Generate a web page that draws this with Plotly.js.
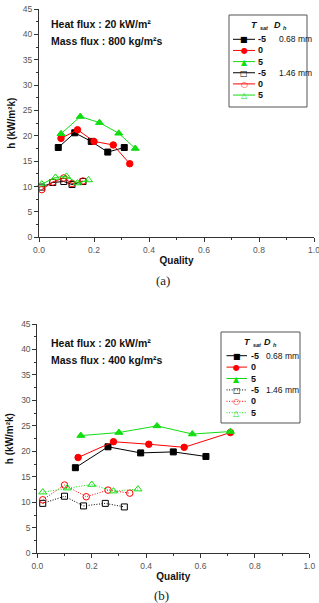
<!DOCTYPE html>
<html>
<head>
<meta charset="utf-8">
<script src="https://cdn.plot.ly/plotly-3.0.1.min.js"></script>
<style>
  html, body { margin: 0; padding: 0; background: #fff; }
  #chart { width: 319px; height: 603px; }
</style>
</head>
<body>
<div id="chart"></div>
<script>
// Flow boiling heat transfer coefficient vs. vapour quality
// (a) G = 800 kg/m2s, (b) G = 400 kg/m2s, q = 20 kW/m2

// --- (a) mass flux 800 kg/m2s ---
const a_x_m5_068 = [0.07, 0.13, 0.19, 0.25, 0.31];
const a_h_m5_068 = [17.7, 20.6, 18.9, 16.8, 17.7];
const a_x_0_068  = [0.08, 0.14, 0.20, 0.27, 0.33];
const a_h_0_068  = [19.5, 21.2, 18.9, 18.2, 14.5];
const a_x_5_068  = [0.08, 0.15, 0.22, 0.29, 0.35];
const a_h_5_068  = [20.4, 23.8, 22.6, 20.5, 17.5];
const a_x_m5_146 = [0.01, 0.05, 0.09, 0.12, 0.16];
const a_h_m5_146 = [9.9, 10.8, 11.0, 10.4, 11.0];
const a_x_0_146  = [0.01, 0.05, 0.09, 0.12, 0.16];
const a_h_0_146  = [9.4, 10.9, 11.7, 10.6, 11.1];
const a_x_5_146  = [0.01, 0.06, 0.10, 0.14, 0.18];
const a_h_5_146  = [10.5, 11.8, 12.0, 10.7, 11.3];

// --- (b) mass flux 400 kg/m2s ---
const b_x_m5_068 = [0.14, 0.26, 0.38, 0.50, 0.62];
const b_h_m5_068 = [16.8, 20.9, 19.7, 19.9, 19.0];
const b_x_0_068  = [0.15, 0.28, 0.41, 0.54, 0.71];
const b_h_0_068  = [18.8, 21.9, 21.4, 20.8, 23.7];
const b_x_5_068  = [0.16, 0.30, 0.44, 0.57, 0.71];
const b_h_5_068  = [23.1, 23.7, 25.0, 23.4, 23.9];
const b_x_m5_146 = [0.02, 0.10, 0.17, 0.25, 0.32];
const b_h_m5_146 = [9.8, 11.2, 9.3, 9.8, 9.1];
const b_x_0_146  = [0.02, 0.10, 0.18, 0.26, 0.34];
const b_h_0_146  = [10.5, 13.4, 11.1, 12.4, 11.8];
const b_x_5_146  = [0.02, 0.11, 0.20, 0.28, 0.37];
const b_h_5_146  = [12.0, 12.8, 13.5, 12.2, 12.6];

// legend labels
const tsatLabels = ['-5', '0', '5', '-5', '0', '5'];
const dhLabels   = ['0.68 mm', '', '', '1.46 mm', '', ''];
const xTickVals  = [0, 0.2, 0.4, 0.6, 0.8, 1.0];
const yTickVals  = [0, 5, 10, 15, 20, 25, 30, 35, 40, 45];

const W = 319, H = 603;
const px = v => v / W;
const py = v => 1 - v / H;

const FONT = 'Liberation Sans, Arial, sans-serif';
const GLYPH_FONT = 'DejaVu Sans, sans-serif';
const DOTTED = '1px,1.6px';

const styles = [
  { color: '#000000', symbol: 'square',             size: 6,   glyph: '\u25A0' },
  { color: '#ff0000', symbol: 'circle',             size: 6.5, glyph: '\u25CF' },
  { color: '#11dd11', symbol: 'triangle-up',        size: 7,   glyph: '\u25B2' },
  { color: '#000000', symbol: 'square-open',        size: 6,   glyph: '\u25A1' },
  { color: '#ff0000', symbol: 'circle-open',        size: 6.5, glyph: '\u25CB' },
  { color: '#11dd11', symbol: 'triangle-up-open',   size: 7,   glyph: '\u25B3' }
];

const panelA = {
  xs: [a_x_m5_068, a_x_0_068, a_x_5_068, a_x_m5_146, a_x_0_146, a_x_5_146],
  ys: [a_h_m5_068, a_h_0_068, a_h_5_068, a_h_m5_146, a_h_0_146, a_h_5_146],
  openDash: 'solid',
  xa: 'x', ya: 'y'
};
const panelB = {
  xs: [b_x_m5_068, b_x_0_068, b_x_5_068, b_x_m5_146, b_x_0_146, b_x_5_146],
  ys: [b_h_m5_068, b_h_0_068, b_h_5_068, b_h_m5_146, b_h_0_146, b_h_5_146],
  openDash: DOTTED,
  xa: 'x2', ya: 'y2'
};

const traces = [];
[panelA, panelB].forEach(p => {
  // open (1.46 mm) series first, filled (0.68 mm) series on top
  [3, 4, 5, 0, 1, 2].forEach(i => {
    const s = styles[i];
    traces.push({
      type: 'scatter', mode: 'lines+markers',
      x: p.xs[i], y: p.ys[i], xaxis: p.xa, yaxis: p.ya,
      name: tsatLabels[i] + ' ' + dhLabels[i],
      showlegend: false,
      line: { color: s.color, width: 1, dash: i >= 3 ? p.openDash : 'solid' },
      marker: { symbol: s.symbol, size: s.size, color: s.color,
                line: { color: s.color, width: 1 } },
      cliponaxis: false,
      hoverinfo: 'skip'
    });
  });
});

const minorX = [0.1, 0.3, 0.5, 0.7, 0.9];
const minorY = yTickVals.slice(0, -1).map(v => v + 2.5);

function baseX(domain, anchor) {
  return {
    domain: domain, anchor: anchor, range: [0, 1],
    tickvals: xTickVals, ticktext: xTickVals.map(v => v.toFixed(1)),
    ticklabeloverflow: 'allow',
    ticks: 'outside', ticklen: 4, tickwidth: 1, tickcolor: '#333',
    minor: { tickvals: minorX, ticks: 'outside', ticklen: 2, tickcolor: '#333' },
    showline: true, linecolor: '#333', linewidth: 1,
    showgrid: false, zeroline: false,
    tickfont: { family: FONT, size: 8.5, color: '#555' },
    title: { text: 'Quality', standoff: 3,
             font: { family: FONT, size: 10, color: '#111', weight: 'bold' } }
  };
}
function baseY(domain, anchor) {
  return {
    domain: domain, anchor: anchor, range: [0, 45],
    tickvals: yTickVals,
    ticks: 'outside', ticklen: 4, tickwidth: 1, tickcolor: '#333',
    minor: { tickvals: minorY, ticks: 'outside', ticklen: 2, tickcolor: '#333' },
    showline: true, linecolor: '#333', linewidth: 1,
    showgrid: false, zeroline: false,
    tickfont: { family: FONT, size: 8.5, color: '#555' },
    title: { text: 'h (kW/m\u00B2k)', standoff: 5,
             font: { family: FONT, size: 10, color: '#111', weight: 'bold' } }
  };
}
// top / right frame axes with inward ticks
function frameX(domain, over, anchor) {
  return {
    domain: domain, overlaying: over, anchor: anchor, side: 'top', range: [0, 1],
    tickvals: xTickVals, showticklabels: false,
    ticks: 'inside', ticklen: 4, tickcolor: '#333',
    minor: { tickvals: minorX, ticks: 'inside', ticklen: 2, tickcolor: '#333' },
    showline: true, linecolor: '#333', linewidth: 1,
    showgrid: false, zeroline: false
  };
}
function frameY(domain, over, anchor) {
  return {
    domain: domain, overlaying: over, anchor: anchor, side: 'right', range: [0, 45],
    tickvals: yTickVals, showticklabels: false,
    ticks: 'inside', ticklen: 4, tickcolor: '#333',
    minor: { tickvals: minorY, ticks: 'inside', ticklen: 2, tickcolor: '#333' },
    showline: true, linecolor: '#333', linewidth: 1,
    showgrid: false, zeroline: false
  };
}

const domA_x = [px(39), px(314)], domA_y = [py(237.3), py(9)];
const domB_x = [px(37.3), px(309.3)], domB_y = [py(553.3), py(324)];

const annotations = [];
const shapes = [];

function note(xp, yp, text, opts) {
  annotations.push(Object.assign({
    xref: 'paper', yref: 'paper', x: px(xp), y: py(yp), text: text,
    showarrow: false, xanchor: 'left', yanchor: 'middle',
    font: { family: FONT, size: 10.5, color: '#111', weight: 'bold' }
  }, opts || {}));
}

// conditions text and captions
note(49, 24, 'Heat flux : 20 kW/m\u00B2');
note(49, 41, 'Mass flux : 800 kg/m\u00B2s');
note(49, 343, 'Heat flux : 20 kW/m\u00B2');
note(49, 360, 'Mass flux : 400 kg/m\u00B2s');
note(163, 280, '(a)', { xanchor: 'center', font: { family: 'Liberation Serif, serif', size: 13, color: '#222' } });
note(161, 595, '(b)', { xanchor: 'center', font: { family: 'Liberation Serif, serif', size: 13, color: '#222' } });

// legend blocks
function legendBlock(L, openDash) {
  shapes.push({ type: 'rect', xref: 'paper', yref: 'paper',
    x0: px(L.box[0]), x1: px(L.box[2]), y0: py(L.box[3]), y1: py(L.box[1]),
    line: { color: '#555', width: 1 }, fillcolor: 'rgba(255,255,255,0)', layer: 'above' });
  const small = { family: FONT, size: 9, color: '#111', weight: 'bold' };
  const head = { family: FONT, size: 9, color: '#111', weight: 'bold', style: 'italic' };
  const sub = { family: FONT, size: 5.5, color: '#111', weight: 'bold', style: 'italic' };
  // column headers: T_sat and D_h
  note(L.tX, L.headY, 'T', { xanchor: 'right', borderpad: 0, font: head });
  note(L.tX - 0.5, L.headY + 3, 'sat', { borderpad: 0, font: sub });
  note(L.dX, L.headY, 'D', { xanchor: 'right', borderpad: 0, font: head });
  note(L.dX - 0.5, L.headY + 3, 'h', { borderpad: 0, font: sub });
  styles.forEach((s, i) => {
    const y = L.row0 + i * L.step;
    shapes.push({ type: 'line', xref: 'paper', yref: 'paper',
      x0: px(L.line[0]), x1: px(L.line[1]), y0: py(y), y1: py(y),
      line: { color: s.color, width: 1, dash: i >= 3 ? openDash : 'solid' }, layer: 'above' });
    note((L.line[0] + L.line[1]) / 2, y + 0.5, s.glyph,
      { xanchor: 'center', font: { family: GLYPH_FONT, size: 8, color: s.color } });
    note(L.labX, y, tsatLabels[i], { font: small });
    if (dhLabels[i]) note(L.dhX, y, dhLabels[i], { font: { family: FONT, size: 8.5, color: '#111' } });
  });
}
legendBlock({ box: [229, 15, 307, 107], headY: 25, tX: 259, dX: 282,
              row0: 39.3, step: 11.15, line: [233, 255], labX: 256, dhX: 277 }, 'solid');
legendBlock({ box: [221, 332, 300, 423], headY: 342, tX: 252, dX: 272,
              row0: 355.7, step: 11.4, line: [226.5, 247], labX: 248.5, dhX: 264 }, DOTTED);

const layout = {
  width: W, height: H,
  margin: { l: 0, r: 0, t: 0, b: 0, pad: 0 },
  paper_bgcolor: '#ffffff', plot_bgcolor: 'rgba(0,0,0,0)',
  showlegend: false,
  xaxis: baseX(domA_x, 'y'),
  yaxis: baseY(domA_y, 'x'),
  xaxis2: baseX(domB_x, 'y2'),
  yaxis2: baseY(domB_y, 'x2'),
  xaxis3: frameX(domA_x, 'x', 'y'),
  yaxis3: frameY(domA_y, 'y', 'x'),
  xaxis4: frameX(domB_x, 'x2', 'y2'),
  yaxis4: frameY(domB_y, 'y2', 'x2'),
  annotations: annotations,
  shapes: shapes
};

Plotly.newPlot('chart', traces, layout, { staticPlot: true, displayModeBar: false });
</script>
</body>
</html>
